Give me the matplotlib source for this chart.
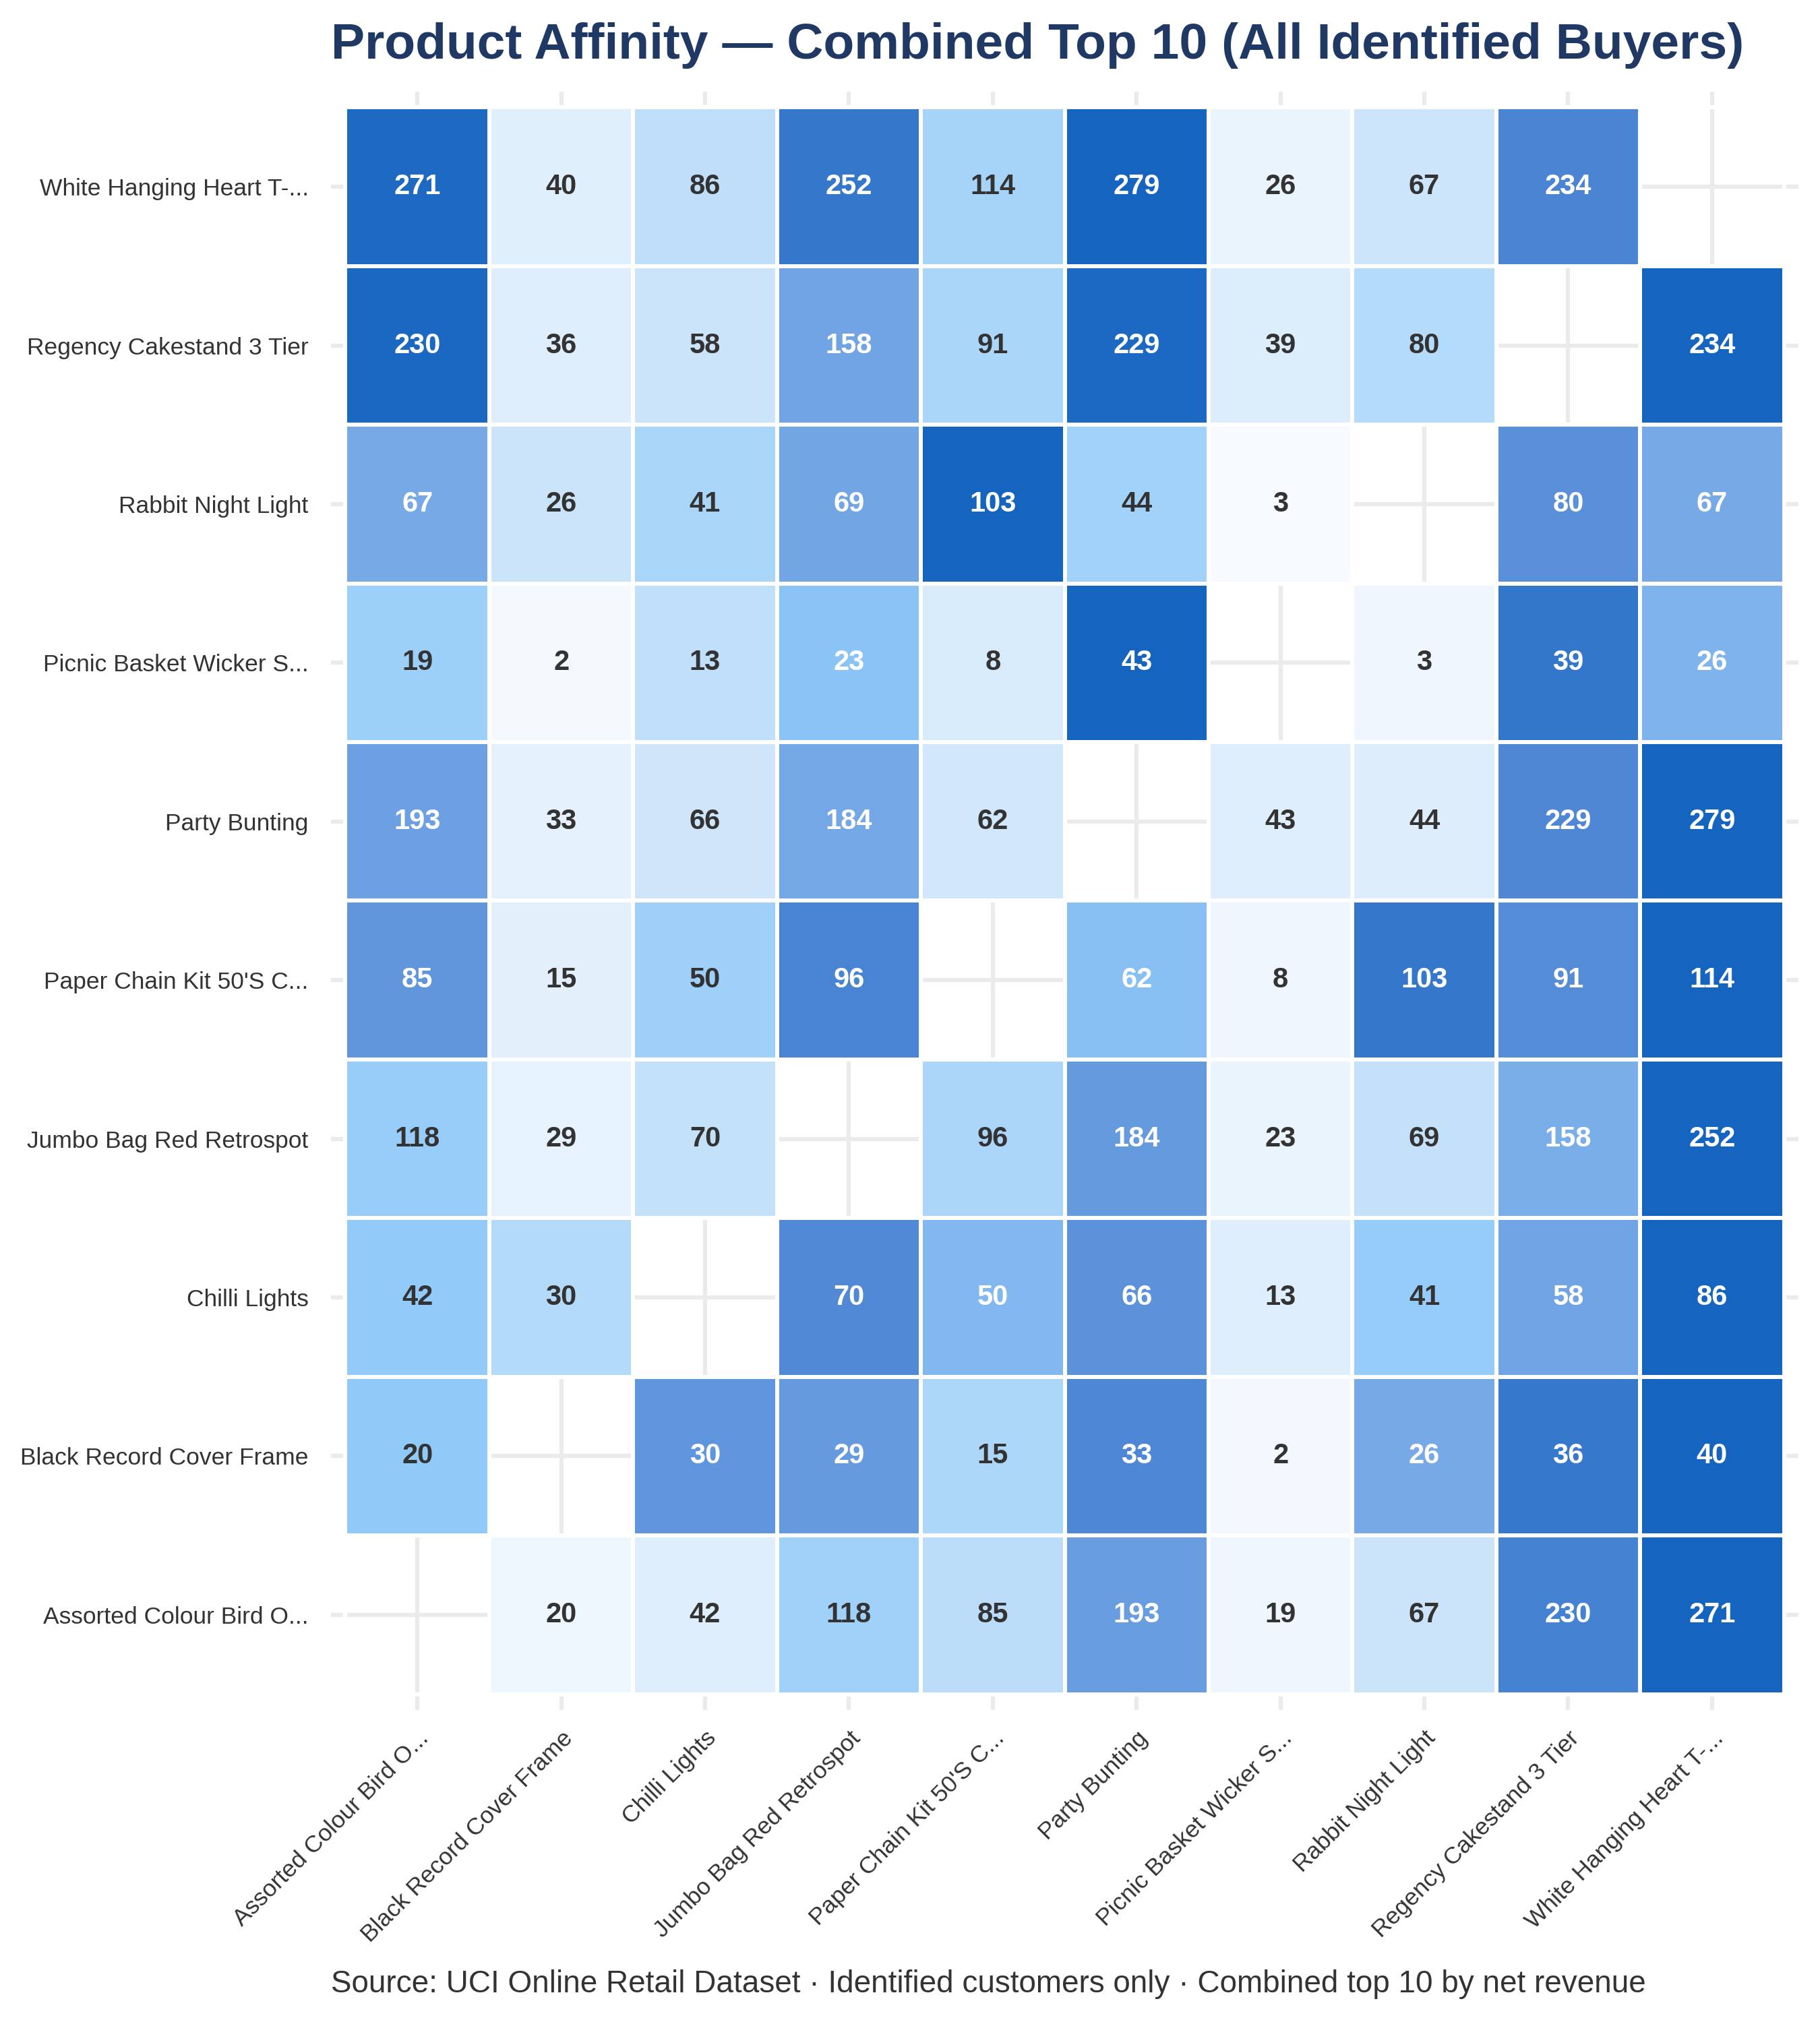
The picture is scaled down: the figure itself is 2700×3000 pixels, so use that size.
import numpy as np
import matplotlib.pyplot as plt
from matplotlib.colors import LinearSegmentedColormap

# --- Datos ---
products = [
    "Assorted Colour Bird O...",
    "Black Record Cover Frame",
    "Chilli Lights",
    "Jumbo Bag Red Retrospot",
    "Paper Chain Kit 50'S C...",
    "Party Bunting",
    "Picnic Basket Wicker S...",
    "Rabbit Night Light",
    "Regency Cakestand 3 Tier",
    "White Hanging Heart T-...",
]

# compradores en común (diagonal vacía)
nan = np.nan
affinity = [
    [nan, 20, 42, 118, 85, 193, 19, 67, 230, 271],
    [20, nan, 30, 29, 15, 33, 2, 26, 36, 40],
    [42, 30, nan, 70, 50, 66, 13, 41, 58, 86],
    [118, 29, 70, nan, 96, 184, 23, 69, 158, 252],
    [85, 15, 50, 96, nan, 62, 8, 103, 91, 114],
    [193, 33, 66, 184, 62, nan, 43, 44, 229, 279],
    [19, 2, 13, 23, 8, 43, nan, 3, 39, 26],
    [67, 26, 41, 69, 103, 44, 3, nan, 80, 67],
    [230, 36, 58, 158, 91, 229, 39, 80, nan, 234],
    [271, 40, 86, 252, 114, 279, 26, 67, 234, nan],
]

title = "Product Affinity \u2014 Combined Top 10 (All Identified Buyers)"
source = ("Source: UCI Online Retail Dataset \u00b7 Identified customers only "
          "\u00b7 Combined top 10 by net revenue")

# --- Estilo ---
plt.rcParams['font.family'] = ['Liberation Sans', 'DejaVu Sans']
TEXT_DARK = '#333333'

data = np.array(affinity, dtype=float)
n = len(products)
# normalizado por fila (valor / máximo de la fila)
norm = data / np.nanmax(data, axis=1, keepdims=True)

cmap = LinearSegmentedColormap.from_list(
    'affinity', [(0.0, '#fcfdff'), (0.25, '#cbe4fa'), (0.5, '#90caf9'),
                 (0.66, '#74a7e5'), (0.825, '#4f87d5'), (1.0, '#1565c0')])

fig = plt.figure(figsize=(9, 10), dpi=300)
ax = fig.add_axes([0.1819, 0.1543, 0.8062, 0.8004])

ax.set_axisbelow(True)
ax.grid(True, color='#ebebeb', lw=1.5)
ax.pcolormesh(np.arange(n + 1), np.arange(n + 1), np.ma.masked_invalid(norm),
              cmap=cmap, vmin=0, vmax=1, edgecolors='white', linewidth=1.0)

for i in range(n):
    for j in range(n):
        if np.isnan(data[i, j]):
            continue
        color = 'white' if norm[i, j] > 0.5 else TEXT_DARK
        ax.text(j + 0.5, i + 0.5, f"{int(data[i, j])}", ha='center', va='center',
                fontsize=10, fontweight='bold', color=color)

ax.set_xlim(-0.1, n + 0.1)
ax.set_ylim(-0.1, n + 0.1)
ax.set_xticks(np.arange(n) + 0.5)
ax.set_yticks(np.arange(n) + 0.5)
ax.set_xticklabels(products, rotation=45, ha='right', va='top',
                   rotation_mode='anchor', fontsize=8.5, color=TEXT_DARK)
ax.set_yticklabels(products, fontsize=8.5, color=TEXT_DARK)
ax.tick_params(axis='both', length=0)
ax.tick_params(axis='x', pad=6)
ax.tick_params(axis='y', pad=8)
for s in ax.spines.values():
    s.set_visible(False)

fig.text(0.1819, 1 - 87 / 3000, title, ha='left', va='baseline',
         fontsize=18, fontweight='bold', color='#1F3864')
fig.text(0.1819, 1 - 2956 / 3000, source, ha='left', va='baseline',
         fontsize=11, color=TEXT_DARK)

fig.savefig('out.png', dpi=300)
